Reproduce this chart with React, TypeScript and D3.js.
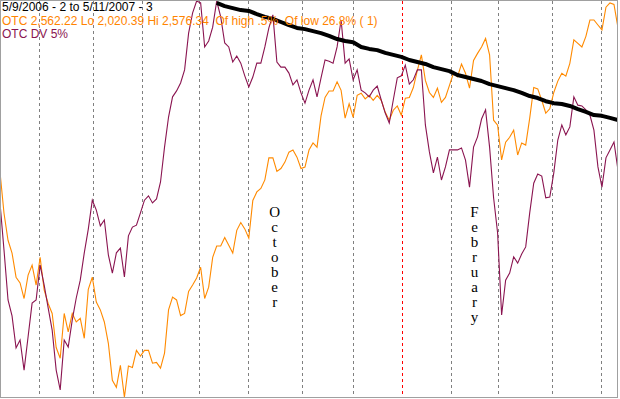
import { useEffect, useRef } from 'react';
import * as d3 from 'd3';

// trading days from 5/9/2006 (0) to 5/11/2007 (252)
const LAST_DAY = 252;
const monthStarts = [16, 38, 58, 81, 101, 123, 144, 164, 184, 203, 225, 245];
const monthNames = ['June', 'July', 'August', 'September', 'October', 'November', 'December', 'January', 'February', 'March', 'April', 'May'];
const yearStartDay = 164;
const labelledMonths = ['October', 'February'];

const otcLo = 2020.39;
const otcHi = 2576.34;

// OTC close, evenly sampled over the period
const otc = [
  2337, 2279, 2241, 2223, 2189, 2181, 2159, 2192, 2206, 2178,
  2217, 2171, 2152, 2138, 2090, 2075, 2138, 2112, 2138, 2126,
  2131, 2103, 2172, 2189, 2154, 2143, 2126, 2096, 2044, 2034,
  2065, 2020, 2064, 2062, 2086, 2078, 2086, 2086, 2068, 2069,
  2061, 2082, 2143, 2161, 2157, 2135, 2138, 2169, 2178, 2188,
  2203, 2159, 2175, 2217, 2233, 2233, 2245, 2234, 2223, 2255,
  2266, 2257, 2244, 2297, 2309, 2314, 2326, 2357, 2357, 2338,
  2342, 2351, 2365, 2368, 2358, 2342, 2344, 2368, 2378, 2372,
  2416, 2442, 2451, 2451, 2464, 2452, 2413, 2433, 2414, 2445,
  2448, 2440, 2445, 2438, 2445, 2438, 2421, 2410, 2424, 2430,
  2417, 2441, 2442, 2456, 2480, 2502, 2466, 2449, 2442, 2455,
  2435, 2442, 2459, 2476, 2471, 2489, 2476, 2455, 2494, 2504,
  2513, 2525, 2502, 2410, 2403, 2354, 2379, 2386, 2396, 2361,
  2378, 2375, 2413, 2456, 2454, 2438, 2420, 2426, 2449, 2465,
  2476, 2472, 2490, 2523, 2518, 2513, 2528, 2551, 2551, 2544,
  2537, 2569, 2575, 2573, 2540,
];

// OTC DV 5% (scaled 0-100)
const otcDv = [
  49.0, 37.1, 24.5, 20.5, 12.4, 14.4, 6.8, 15.2, 23.7, 24.5,
  33.3, 28.3, 22.5, 16.9, 6.8, 1.8, 14.4, 12.6, 19.4, 25.0,
  29.5, 36.4, 42.4, 49.7, 47.2, 43.2, 44.7, 35.9, 31.3, 36.4,
  37.6, 30.3, 40.7, 42.9, 43.4, 46.5, 49.7, 50.8, 49.0, 50.0,
  54.3, 63.1, 70.7, 75.8, 77.3, 79.3, 82.6, 91.9, 97.0, 100,
  99.5, 88.4, 89.9, 93.4, 100, 96.0, 89.4, 88.4, 84.6, 86.1,
  84.3, 81.1, 78.3, 80.8, 84.3, 84.3, 88.4, 93.2, 96.5, 84.6,
  83.3, 83.3, 81.8, 78.8, 80.1, 76.8, 74.2, 77.5, 80.1, 75.8,
  80.6, 85.1, 84.8, 84.3, 88.4, 95.2, 84.3, 85.4, 80.1, 82.6,
  77.5, 76.8, 75.8, 77.5, 78.5, 75.0, 71.7, 69.2, 75.0, 80.6,
  81.1, 83.8, 79.0, 80.1, 82.6, 82.6, 68.7, 61.9, 56.6, 60.6,
  54.8, 58.1, 62.4, 62.4, 62.4, 62.9, 59.8, 53.0, 63.1, 65.7,
  70.2, 72.5, 63.1, 50.3, 41.4, 20.7, 29.5, 31.3, 35.4, 33.8,
  36.1, 37.9, 46.5, 54.0, 56.3, 55.8, 50.3, 50.5, 56.6, 64.9,
  68.7, 66.2, 68.2, 75.8, 73.7, 73.5, 72.5, 71.2, 67.4, 58.1,
  53.0, 60.4, 62.4, 64.4, 57.3,
];

// black trend line, same 0-100 scale, starts at sample 54, every 2nd sample
const trendStart = 54;
const trendStep = 2;
const trend = [
  99.5, 98.7, 98.2, 97.7, 97.5, 96.7, 96.0, 95.5, 94.7, 93.9,
  93.2, 92.9, 92.4, 91.9, 91.2, 90.4, 89.9, 89.6, 88.4, 87.9,
  87.6, 86.9, 86.4, 85.9, 85.1, 84.6, 84.1, 83.3, 82.8, 82.3,
  81.3, 80.8, 80.3, 79.8, 79.0, 78.5, 78.0, 77.5, 76.8, 76.0,
  75.5, 74.7, 74.2, 74.0, 73.5, 72.7, 72.0, 71.2, 71.0, 70.5,
  69.9,
];

const headerLines = [
  { text: '5/9/2006 - 2 to 5/11/2007 - 3', color: '#000000' },
  { text: 'OTC 2,562.22 Lo 2,020.39 Hi 2,576.34  Of high .5%  Of low 26.8% ( 1)', color: '#ff8400' },
  { text: 'OTC DV 5%', color: '#8a1450' },
];

const ORANGE = '#ff8a00';
const MAROON = '#8a1450';

const App = () => {
  const svgRef = useRef<SVGSVGElement>(null);

  useEffect(() => {
    if (!svgRef.current) return;
    document.body.style.margin = '0';
    const svg = d3.select(svgRef.current);
    svg.selectAll('*').remove();

    const width = 620;
    const height = 399;
    const plot = { left: 0, top: 0, right: 618, bottom: 397 };

    const x = d3.scaleLinear().domain([0, LAST_DAY]).range([plot.left, plot.right]);
    const sampleDay = (i: number) => (i * LAST_DAY) / (otc.length - 1);
    const yPrice = d3.scaleLinear().domain([otcLo, otcHi]).range([plot.bottom, 2]);
    const yDv = d3.scaleLinear().domain([0, 100]).range([plot.bottom, 1]);

    svg.append('rect').attr('width', width).attr('height', height).attr('fill', '#fff');

    svg
      .append('defs')
      .append('clipPath')
      .attr('id', 'plot-clip')
      .append('rect')
      .attr('x', 1)
      .attr('y', 1)
      .attr('width', plot.right - 1)
      .attr('height', plot.bottom - 1);

    // month grid lines
    svg
      .append('g')
      .selectAll('line')
      .data(monthStarts)
      .join('line')
      .attr('x1', (d) => Math.round(x(d)) + 0.5)
      .attr('x2', (d) => Math.round(x(d)) + 0.5)
      .attr('y1', 1)
      .attr('y2', plot.bottom)
      .attr('stroke', (d) => (d === yearStartDay ? '#ff0000' : '#808080'))
      .attr('stroke-width', 1)
      .attr('stroke-dasharray', '3,3');

    const g = svg.append('g').attr('clip-path', 'url(#plot-clip)');

    const priceLine = d3
      .line<number>()
      .x((_, i) => x(sampleDay(i)))
      .y((d) => yPrice(d));
    g.append('path')
      .attr('d', priceLine(otc))
      .attr('fill', 'none')
      .attr('stroke', ORANGE)
      .attr('stroke-width', 1.1);

    const dvLine = d3
      .line<number>()
      .x((_, i) => x(sampleDay(i)))
      .y((d) => yDv(d));
    g.append('path')
      .attr('d', dvLine(otcDv))
      .attr('fill', 'none')
      .attr('stroke', MAROON)
      .attr('stroke-width', 1.1);

    const trendLine = d3
      .line<number>()
      .x((_, i) => x(sampleDay(trendStart + i * trendStep)))
      .y((d) => yDv(d));
    g.append('path')
      .attr('d', trendLine(trend))
      .attr('fill', 'none')
      .attr('stroke', '#000')
      .attr('stroke-width', 4)
      .attr('stroke-linejoin', 'round');

    // border
    svg
      .append('rect')
      .attr('x', 0.5)
      .attr('y', 0.5)
      .attr('width', plot.right - 1)
      .attr('height', plot.bottom)
      .attr('fill', 'none')
      .attr('stroke', '#a0a0a0');

    // vertical month names, one letter per row
    labelledMonths.forEach((name) => {
      const m = monthNames.indexOf(name);
      const mid = (monthStarts[m] + monthStarts[m + 1]) / 2;
      svg
        .append('g')
        .selectAll('text')
        .data(name.split(''))
        .join('text')
        .attr('x', x(mid))
        .attr('y', (_, k) => 217 + k * 15)
        .attr('text-anchor', 'middle')
        .style('font-family', '"Liberation Serif", "DejaVu Serif", serif')
        .style('font-size', '15px')
        .attr('fill', '#000')
        .text((c) => c);
    });

    // header
    svg
      .append('g')
      .selectAll('text')
      .data(headerLines)
      .join('text')
      .attr('x', 2)
      .attr('y', (_, i) => [11, 24.5, 38][i])
      .style('font-family', '"Liberation Sans", Arial, sans-serif')
      .style('font-size', '12px')
      .attr('fill', (d) => d.color)
      .attr('xml:space', 'preserve')
      .style('white-space', 'pre')
      .text((d) => d.text);
  }, []);

  return <svg ref={svgRef} width={620} height={399} style={{ display: 'block' }} />;
};

export default App;
